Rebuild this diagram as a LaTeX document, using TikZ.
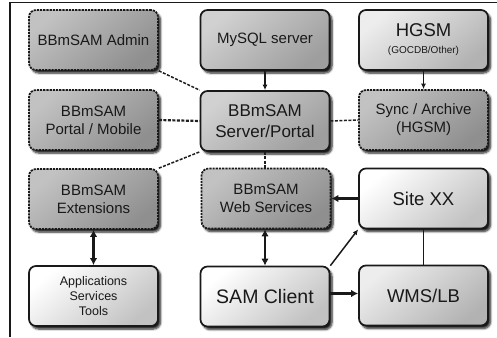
\documentclass[tikz,border=0pt]{standalone}
\usepackage{fontspec}
\setmainfont{Liberation Sans}
\usetikzlibrary{arrows.meta,shadows.blur}

\tikzset{
  grad/.style 2 args={top color=#1, bottom color=#2, shading angle=40},
  box/.style={rectangle, rounded corners=7pt, draw=black!90, line width=1.7pt,
    minimum width=129pt, minimum height=60pt, inner sep=0pt, align=center,
    text=black!90, font=\fontsize{15}{18}\selectfont,
    blur shadow={shadow xshift=2.5pt, shadow yshift=-3pt, shadow blur steps=6,
      shadow blur extra rounding=2pt, shadow opacity=90}},
  dbox/.style={box, dash pattern=on 2.2pt off 1pt, grad={black!24}{black!44}},
  gbox/.style={box, grad={black!18}{black!38}},
  lbox/.style={box, grad={black!7}{black!30}},
  wbox/.style={box, grad={white}{black!24}},
  dashlink/.style={draw=black!88, line width=1.5pt, dash pattern=on 3pt off 1.5pt},
  thinarrow/.style={draw=black!90, line width=1.5pt, -{Latex[length=5.5pt,width=5pt]}},
  thickarrow/.style={draw=black!90, line width=2.8pt, -{Latex[length=7pt,width=7.5pt]}},
  twoway/.style={draw=black!90, line width=2.8pt, {Latex[length=7pt,width=7.5pt]}-{Latex[length=7pt,width=7.5pt]}},
}

\begin{document}
\begin{tikzpicture}[x=1pt, y=-1pt]
  \useasboundingbox (0,0) rectangle (497,337);
  % frame
  \draw[line width=1.6pt, black!90] (10,337) -- (10,2.5) -- (497,2.5);

  % first row
  \node[dbox] (admin) at (93.5,40) {BBmSAM Admin};
  \node[gbox] (mysql) at (265,40) {MySQL server};
  \node[lbox] (hgsm)  at (423.5,40) {{\fontsize{18.5}{20}\selectfont HGSM}\\[-1pt]{\fontsize{10}{12}\selectfont (GOCDB/Other)}};

  % second row
  \node[dbox] (portal) at (93.5,120) {BBmSAM\\Portal / Mobile};
  \node[gbox, font=\fontsize{17}{20.5}\selectfont] (server) at (265,121) {BBmSAM\\Server/Portal};
  \node[dbox] (sync) at (423.5,120) {Sync / Archive\\(HGSM)};

  % third row
  \node[dbox] (ext) at (93.5,199) {BBmSAM\\Extensions};
  \node[dbox] (ws)  at (266,198.5) {BBmSAM\\Web Services};
  \node[wbox, font=\fontsize{18.5}{20}\selectfont] (site) at (423.5,198.5) {Site XX};

  % fourth row
  \node[wbox, font=\fontsize{12.5}{15}\selectfont] (apps) at (93.5,296) {Applications\\Services\\Tools};
  \node[wbox, font=\fontsize{19.5}{22}\selectfont] (sam) at (265,296.5) {SAM Client};
  \node[lbox, font=\fontsize{18.5}{20}\selectfont] (wms) at (423.5,295.5) {WMS/LB};

  % links around the server
  \draw[dashlink] (admin.south east) -- (server.north west);
  \draw[dashlink, line width=2.2pt] (portal.east) -- (server.west);
  \draw[dashlink] (ext.north east) -- (server.south west);
  \draw[dashlink] (server.east) -- (sync.west);
  \draw[dashlink] (server.south) -- (ws.north -| server.south);
  \draw[thinarrow] (mysql.south) -- (server.north);
  \draw[thinarrow] (hgsm.south) -- (sync.north);

  % lower links
  \draw[thickarrow] (site.west) -- (ws.east);
  \draw[twoway] (ws.south -| sam.north) -- (sam.north);
  \draw[twoway] (ext.south) -- (apps.north);
  \draw[thinarrow] (sam.north east) -- (site.south west);
  \draw[thickarrow] ([yshift=3pt]sam.east) -- ([yshift=3pt]sam.east -| wms.west);
  \draw[draw=black!90, line width=1.7pt] (site.south) -- (wms.north);
\end{tikzpicture}
\end{document}
